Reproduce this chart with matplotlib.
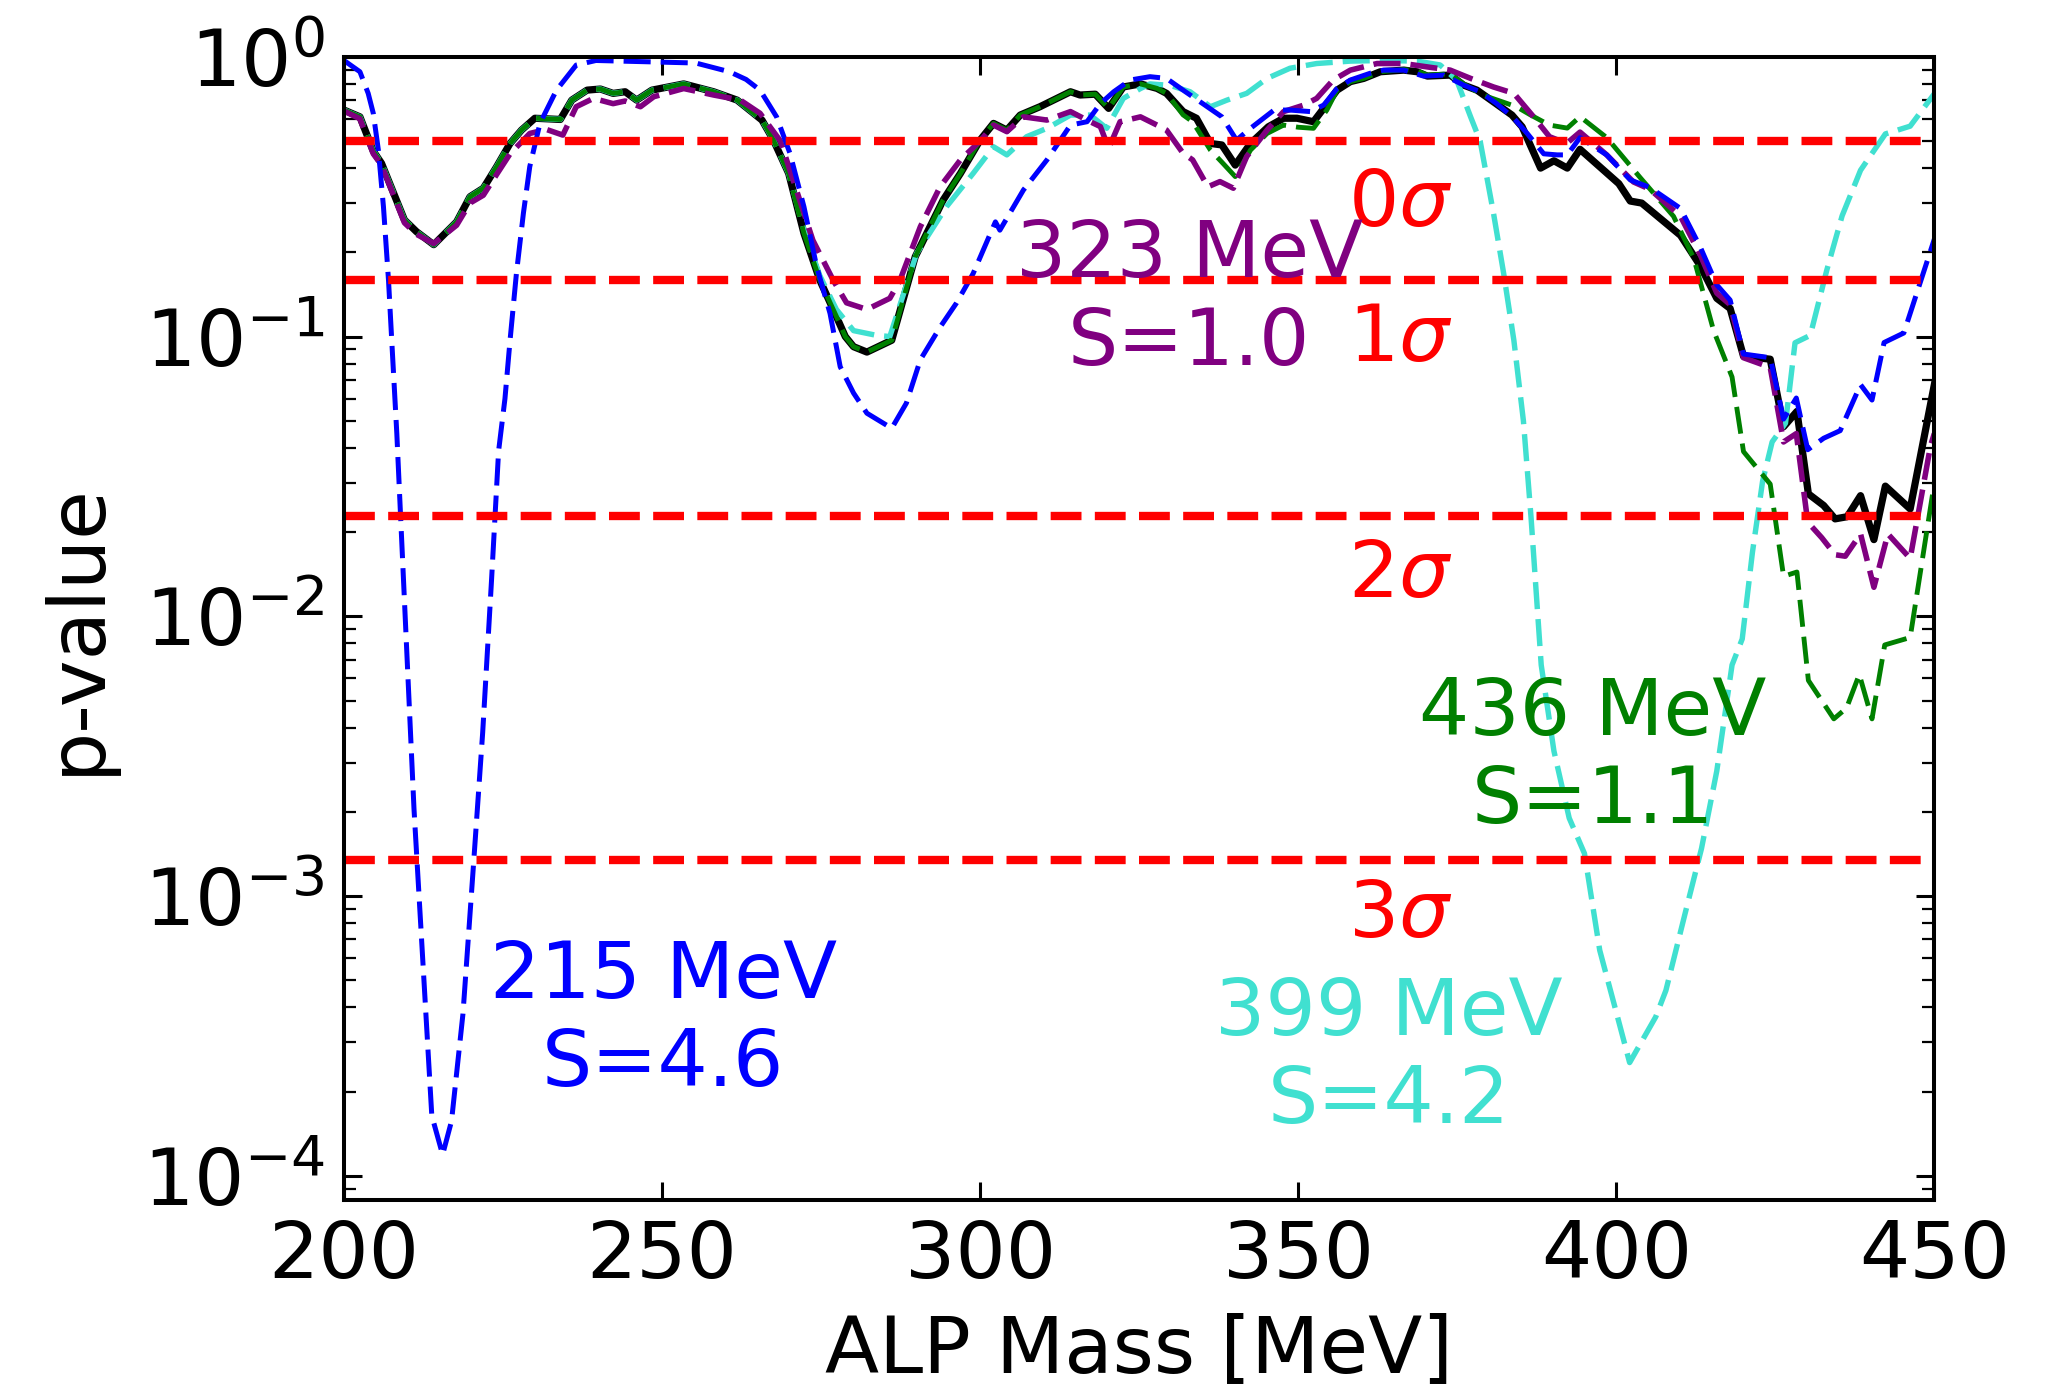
import numpy as np
import matplotlib.pyplot as plt

# ALP mass scan, p-value of the nominal fit and of four injected-signal fits
mass_nom = [200, 202.5, 204.6, 205.9, 209.5, 211.4, 214.1, 217.7, 219.8, 221.9, 224, 226.1,
            227.9, 230, 234, 235.8, 238.2, 240.3, 242.3, 244.2, 246, 248.4, 253.4, 258.1,
            261.8, 265.7, 267.5, 269.9, 272.3, 274.8, 277.4, 278.8, 280.1, 282.2, 286.1,
            289.8, 294.2, 296.9, 300, 302.1, 304.2, 306.3, 309.4, 314.2, 315.7, 318.1, 320.2,
            322.5, 325.2, 327.8, 329.3, 331.9, 334, 336.2, 338, 340.1, 342.5, 345.3, 347.7,
            349.8, 352.4, 354, 356.1, 358.2, 360.3, 362.9, 366.6, 368.7, 370.3, 373.9, 376,
            378.1, 380.7, 383.6, 385.2, 388.1, 390.2, 392.3, 394.3, 400.4, 402.2, 404, 410.1,
            413.2, 415.8, 417.9, 420, 424.2, 426.3, 428.4, 430.2, 432.6, 434.4, 436.3, 438.4,
            440.5, 442.3, 446.2, 450]
p_nom = [0.645, 0.61, 0.46, 0.416, 0.261, 0.237, 0.213, 0.257, 0.316, 0.339, 0.405, 0.49,
         0.547, 0.603, 0.597, 0.70, 0.76, 0.767, 0.74, 0.75, 0.70, 0.76, 0.80, 0.75,
         0.70, 0.594, 0.504, 0.383, 0.234, 0.159, 0.118, 0.10, 0.092, 0.088, 0.097,
         0.193, 0.308, 0.383, 0.504, 0.578, 0.547, 0.619, 0.663, 0.75, 0.73, 0.735, 0.654,
         0.78, 0.80, 0.771, 0.74, 0.637, 0.603, 0.49, 0.484, 0.41, 0.49, 0.562, 0.603,
         0.603, 0.586, 0.654, 0.76, 0.815, 0.837, 0.884, 0.896, 0.884, 0.853, 0.86, 0.792,
         0.76, 0.69, 0.619, 0.562, 0.40, 0.425, 0.40, 0.467, 0.352, 0.305, 0.30, 0.23,
         0.179, 0.137, 0.126, 0.085, 0.083, 0.0476, 0.054, 0.0274, 0.0249, 0.0223, 0.0227, 0.027,
         0.0188, 0.0292, 0.0242, 0.0673]

mass_215 = [200, 202.5, 203.8, 204.6, 205.4, 206.2, 207, 207.5, 208.3, 208.9, 209.9, 211,
            212.4, 213.8, 215.5, 216.9, 218.7, 220.4, 221.8, 223.2, 224.3, 225.3, 226.1,
            227.1, 228.2, 229.2, 230.8, 233.4, 236.5, 239.6, 247.5, 255.3, 260.6, 263.2,
            265.4, 268, 270.1, 272.3, 274.3, 276.4, 278, 280.1, 282.2, 286.1, 288.4, 290.6,
            293.7, 296.3, 298.9, 302.4, 303.1, 306.8, 310.5, 314.2, 316.8, 318.9, 321, 323.6,
            326.7, 329.3, 331.9, 335, 338, 340.3, 342.5, 346.2, 348.7, 351.9, 354, 356.1,
            358.2, 361.3, 363.4, 366.6, 369.7, 372.9, 376, 378.6, 381.2, 383.9, 386, 388.6,
            390.7, 392.3, 394.3, 398.5, 402.2, 405.3, 410.1, 413.2, 415.8, 417.9, 420, 424.2,
            426.3, 428.3, 430.1, 432.6, 435.2, 438.4, 440.2, 442.1, 445.2, 450]
p_215 = [0.97, 0.884, 0.74, 0.628, 0.464, 0.291, 0.158, 0.097, 0.045, 0.0226, 0.0072, 0.00205,
         0.00058, 0.000164, 0.000119, 0.000157, 0.00038, 0.00134, 0.00385, 0.0136, 0.039, 0.06, 0.097,
         0.168, 0.276, 0.405, 0.578, 0.76, 0.934, 0.97, 0.96, 0.95, 0.884, 0.83,
         0.76, 0.61, 0.452, 0.291, 0.178, 0.121, 0.078, 0.0628, 0.0532, 0.047, 0.0578, 0.0826,
         0.108, 0.132, 0.168, 0.257, 0.24, 0.334, 0.428, 0.57, 0.586, 0.68, 0.75, 0.826,
         0.849, 0.837, 0.76, 0.68, 0.61, 0.504, 0.555, 0.645, 0.645, 0.637, 0.672, 0.77,
         0.826, 0.873, 0.896, 0.896, 0.853, 0.86, 0.792, 0.75, 0.68, 0.603, 0.532, 0.45,
         0.446, 0.446, 0.514, 0.446, 0.363, 0.341, 0.287, 0.209, 0.153, 0.135, 0.0866, 0.084,
         0.0507, 0.0603, 0.0394, 0.0433, 0.0461, 0.0673, 0.0593, 0.0952, 0.103, 0.223]

mass_323 = [200, 202.5, 204.6, 205.9, 209.5, 211.4, 214.1, 217.7, 219.8, 221.9, 224, 226.1,
            229.2, 231.8, 234.4, 236.5, 239.2, 242.3, 244.2, 246.6, 248.7, 253.4, 258.1,
            262.3, 265.4, 268.6, 270.6, 273.7, 276.9, 279, 282.2, 285.8, 287.4, 290.6, 293.7,
            296.9, 300, 302.1, 304.2, 306.8, 310.5, 314.2, 317.3, 318.9, 320.2, 322, 325.2,
            327.8, 329.3, 331.9, 333.4, 335.8, 337.7, 339.8, 341.9, 345.1, 347.7, 350.9,
            352.9, 355.5, 358.2, 362.4, 366.6, 370.3, 373.9, 377.1, 380.7, 383.9, 387, 389.5,
            392.2, 394.3, 398.5, 402.7, 405.3, 410.1, 413.2, 415.8, 417.9, 420, 424.2, 426.3,
            428.3, 430.1, 432.3, 434.4, 436, 438.4, 440.5, 442.7, 446.2, 449.4, 450]
p_323 = [0.64, 0.60, 0.45, 0.41, 0.255, 0.232, 0.215, 0.25, 0.30, 0.32, 0.38, 0.45,
         0.532, 0.55, 0.525, 0.663, 0.71, 0.68, 0.695, 0.663, 0.72, 0.77, 0.73,
         0.70, 0.628, 0.50, 0.363, 0.221, 0.159, 0.132, 0.125, 0.137, 0.159, 0.247, 0.343,
         0.428, 0.50, 0.57, 0.54, 0.61, 0.594, 0.637, 0.586, 0.563, 0.471, 0.586, 0.61,
         0.57, 0.547, 0.452, 0.428, 0.343, 0.358, 0.339, 0.44, 0.547, 0.637, 0.672,
         0.71, 0.826, 0.896, 0.946, 0.946, 0.92, 0.896, 0.837, 0.78, 0.74, 0.61, 0.518,
         0.49, 0.538, 0.446, 0.357, 0.336, 0.269, 0.196, 0.143, 0.130, 0.084, 0.0776, 0.042,
         0.045, 0.0217, 0.0191, 0.0166, 0.0164, 0.0197, 0.0127, 0.0197, 0.0161, 0.0407, 0.045]

mass_399 = [200, 202.5, 204.6, 205.9, 209.5, 211.4, 214.1, 217.7, 219.8, 221.9, 224, 226.1,
            227.9, 230, 234, 235.8, 238.2, 240.3, 242.3, 244.2, 246, 248.4, 253.4, 258.1,
            261.8, 265.7, 267.5, 269.9, 272.3, 274.8, 277.4, 280.1, 283.7, 285.8, 290, 294.7,
            298.9, 302.1, 304.2, 307.3, 310.5, 314.2, 317.3, 319.9, 322.5, 325.2, 326.7,
            329.9, 333, 336.2, 338.8, 341.9, 345.1, 348.7, 352.9, 358.2, 363.4, 368.7, 372.3,
            374.9, 377.1, 378.6, 380.7, 382.3, 383.9, 385.4, 386.6, 388.2, 390.2, 392.6, 395,
            397.4, 399.8, 402.1, 406.2, 407.8, 411, 413.4, 415.8, 418.2, 419.8, 421.4, 423,
            424.5, 426.6, 428.1, 430.5, 433.1, 435.5, 438.4, 442.3, 446.2, 450]
p_399 = [0.645, 0.61, 0.46, 0.416, 0.261, 0.237, 0.213, 0.257, 0.316, 0.339, 0.405, 0.49,
         0.547, 0.603, 0.597, 0.70, 0.76, 0.767, 0.74, 0.75, 0.70, 0.76, 0.80, 0.75,
         0.70, 0.594, 0.504, 0.383, 0.24, 0.165, 0.125, 0.105, 0.101, 0.10, 0.198, 0.291,
         0.383, 0.477, 0.446, 0.518, 0.555, 0.619, 0.619, 0.555, 0.71, 0.77, 0.80,
         0.79, 0.75, 0.663, 0.70, 0.74, 0.837, 0.91, 0.946, 0.965, 0.97, 0.965, 0.935,
         0.826, 0.61, 0.50, 0.276, 0.168, 0.097, 0.05, 0.0226, 0.0067, 0.0033, 0.0019, 0.00142,
         0.00064, 0.0004, 0.000254, 0.00037, 0.00046, 0.0009, 0.00148, 0.0028, 0.0067, 0.0083, 0.0169, 0.0304,
         0.042, 0.049, 0.095, 0.101, 0.173, 0.27, 0.393, 0.53, 0.565, 0.738]

mass_436 = [200, 202.5, 204.6, 205.9, 209.5, 211.4, 214.1, 217.7, 219.8, 221.9, 224, 226.1,
            227.9, 230, 234, 235.8, 238.2, 240.3, 242.3, 244.2, 246, 248.4, 253.4, 258.1,
            261.8, 265.7, 267.5, 269.9, 272.3, 274.8, 277.4, 278.8, 280.1, 282.2, 286.1,
            289.8, 294.2, 296.9, 300, 302.1, 304.2, 306.3, 309.4, 314.2, 315.7, 318.1, 320.2,
            322.5, 325.2, 327.8, 329.3, 331.9, 333.4, 336.2, 338, 340.1, 342.5, 345.1, 347.7,
            350, 352.4, 354.5, 356.1, 358.2, 360.3, 362.9, 366.6, 368.7, 370.3, 373.9, 376,
            379, 384.3, 386.5, 389.5, 392.3, 394.3, 398.5, 403.8, 409, 412.2, 415.3, 418.2,
            420, 424.2, 426.3, 428.4, 430.2, 434.2, 436.2, 438.2, 440.2, 442.2, 446.2, 450]
p_436 = [0.645, 0.61, 0.46, 0.416, 0.261, 0.237, 0.213, 0.257, 0.316, 0.339, 0.405, 0.49,
         0.547, 0.603, 0.597, 0.70, 0.76, 0.767, 0.74, 0.75, 0.70, 0.76, 0.80, 0.75,
         0.70, 0.594, 0.504, 0.383, 0.234, 0.159, 0.118, 0.10, 0.092, 0.088, 0.097,
         0.193, 0.308, 0.383, 0.504, 0.578, 0.547, 0.619, 0.663, 0.75, 0.73, 0.735, 0.654,
         0.78, 0.80, 0.771, 0.74, 0.62, 0.586, 0.464, 0.42, 0.373, 0.464, 0.532, 0.57,
         0.56, 0.555, 0.645, 0.76, 0.815, 0.837, 0.884, 0.90, 0.89, 0.86, 0.87, 0.80,
         0.73, 0.663, 0.62, 0.57, 0.556, 0.611, 0.514, 0.369, 0.269, 0.19, 0.105, 0.0717,
         0.0388, 0.0297, 0.0139, 0.0144, 0.0059, 0.0043, 0.0047, 0.0062, 0.0043, 0.0079, 0.0084, 0.03]

sigma_p = [0.5, 0.1587, 0.02275, 0.00135]
sigma_txt = [r'$0\sigma$', r'$1\sigma$', r'$2\sigma$', r'$3\sigma$']
sigma_txt_y = [0.298, 0.098, 0.0141, 0.000855]

fs = 57
plt.rcParams['font.size'] = fs

fig = plt.figure(figsize=(20.6, 13.85), dpi=100)
ax = fig.add_subplot(111)
fig.subplots_adjust(left=0.167, right=0.939, top=0.959, bottom=0.1336)

def dash(lw):
    # dash ~19.5pt on, ~7.2pt off whatever the width
    return (19.5 / lw, 7.2 / lw)

ax.plot(mass_nom, p_nom, color='black', lw=5.2)
ax.plot(mass_399, p_399, color='turquoise', ls='--', lw=3.9, dashes=dash(3.9))
ax.plot(mass_436, p_436, color='green', ls='--', lw=3.5, dashes=dash(3.5))
ax.plot(mass_323, p_323, color='purple', ls='--', lw=4.0, dashes=dash(4.0))
ax.plot(mass_215, p_215, color='blue', ls='--', lw=3.6, dashes=dash(3.6))

for p in sigma_p:
    ax.axhline(p, color='red', ls='--', lw=6.0)
for t, y in zip(sigma_txt, sigma_txt_y):
    ax.text(366, y, t, color='red', ha='center', va='center')

ax.text(250.2, 3.6e-4, '215 MeV\nS=4.6', color='blue', ha='center', va='center')
ax.text(332.9, 0.136, '323 MeV\nS=1.0', color='purple', ha='center', va='center')
ax.text(364.3, 2.66e-4, '399 MeV\nS=4.2', color='turquoise', ha='center', va='center')
ax.text(396.3, 3.15e-3, '436 MeV\nS=1.1', color='green', ha='center', va='center')

ax.set_yscale('log')
ax.set_xlim(200, 450)
ax.set_ylim(8.2e-5, 1)
ax.set_xticks([200, 250, 300, 350, 400, 450])
ax.set_xlabel('ALP Mass [MeV]', labelpad=13)
ax.set_ylabel('p-value', labelpad=20)

ax.tick_params(which='both', direction='in', top=True, right=True)
ax.tick_params(which='major', length=13, width=2.2)
ax.tick_params(which='minor', length=8.5, width=1.6)
ax.tick_params(axis='x', pad=13)
ax.tick_params(axis='y', pad=14)
for s in ax.spines.values():
    s.set_linewidth(2.9)

fig.savefig('out.png', dpi=100)
